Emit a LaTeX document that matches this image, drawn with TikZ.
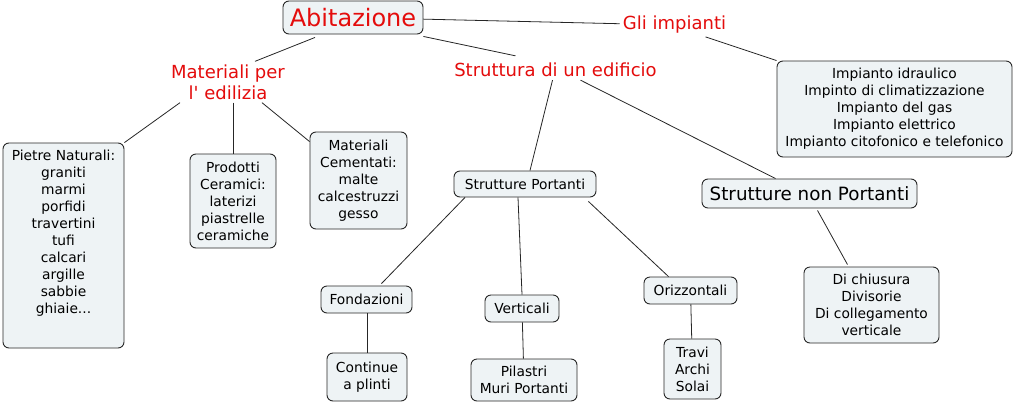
\documentclass[tikz,border=0pt]{standalone}
\usepackage{fontspec}
\setmainfont{DejaVu Sans}
\definecolor{boxfill}{RGB}{238,243,245}
\definecolor{boxdraw}{RGB}{40,40,40}
\definecolor{titlered}{RGB}{228,12,12}
\newcommand{\straightquote}{\XeTeXglyph\XeTeXcharglyph"0027\relax}
\tikzset{
  box/.style={draw=boxdraw, fill=boxfill, rounded corners=6pt, line width=0.9pt,
    align=center, inner sep=0pt, font=\fontsize{13.8}{17}\selectfont},
  bigbox/.style={box, font=\fontsize{18.3}{21}\selectfont},
  redtext/.style={text=titlered, align=center, inner sep=3pt, font=\fontsize{18}{21}\selectfont},
  link/.style={draw=black!85, line width=0.8pt},
}
\begin{document}
\begin{tikzpicture}[x=1pt,y=-1pt]
\useasboundingbox[fill=white] (0,0) rectangle (1015,405);
% top level
\node[box, minimum width=140, minimum height=33, text=titlered, font=\fontsize{24}{26}\selectfont] (abit) at (353,17.5) {Abitazione};
\node[redtext] (gli) at (674.5,25) {Gli impianti};
\node[redtext] (mat) at (228,82) {Materiali per\\l\straightquote{} edilizia};
\node[redtext] (str) at (555.5,70) {Struttura di un edificio};
% impianti
\node[box, minimum width=235, minimum height=96] (impbox) at (894.5,109) {Impianto idraulico\\Impinto di climatizzazione\\Impianto del gas\\Impianto elettrico\\Impianto citofonico e telefonico};
% materials
\node[box, minimum width=121, minimum height=205] (pietre) at (63.5,245.5) {};
\node[align=center, anchor=north, inner sep=0pt, font=\fontsize{13.8}{17}\selectfont] (pietretxt) at (63.5,150) {Pietre Naturali:\\graniti\\marmi\\porfidi\\travertini\\tufi\\calcari\\argille\\sabbie\\ghiaie...};
\node[box, minimum width=86, minimum height=94] (prod) at (233,201) {Prodotti\\Ceramici:\\laterizi\\piastrelle\\ceramiche};
\node[box, minimum width=97, minimum height=97] (cem) at (358.5,180.5) {Materiali\\Cementati:\\malte\\calcestruzzi\\gesso};
% structures
\node[box, minimum width=142, minimum height=26] (sp) at (525,184) {Strutture Portanti};
\node[bigbox, minimum width=215, minimum height=29] (snp) at (809.5,193.5) {Strutture non Portanti};
\node[box, minimum width=135, minimum height=76] (dich) at (871.5,305) {Di chiusura\\Divisorie\\Di collegamento\\verticale};
\node[box, minimum width=91, minimum height=27] (fond) at (366.5,299.5) {Fondazioni};
\node[box, minimum width=74, minimum height=27] (ver) at (522,308.5) {Verticali};
\node[box, minimum width=93, minimum height=27] (oriz) at (690.5,290.5) {Orizzontali};
\node[box, minimum width=80, minimum height=48] (cont) at (367,377) {Continue\\a plinti};
\node[box, minimum width=106, minimum height=42] (pil) at (524,380) {Pilastri\\Muri Portanti};
\node[box, minimum width=57, minimum height=60] (travi) at (692.5,369) {Travi\\Archi\\Solai};
% connectors
\draw[link] (abit) -- (gli);
\draw[link] ([xshift=31pt]gli.south) -- (impbox.north west);
\draw[link] ([xshift=-38pt,yshift=-3pt]abit.south) -- ([xshift=27pt]mat.north);
\draw[link] ([yshift=-2pt]abit.south east) -- ([xshift=-40pt,yshift=4pt]str.north);
\draw[link] ([xshift=-48pt]mat.south) -- (pietre.north east);
\draw[link] (mat.south -| prod.north) -- (prod.north);
\draw[link] ([xshift=34pt]mat.south) -- ([yshift=-10pt]cem.north west);
\draw[link] ([xshift=-3pt]str.south) -- ([xshift=5pt]sp.north);
\draw[link] ([xshift=25pt]str.south) -- ([xshift=-34pt]snp.north);
\draw[link] ([xshift=-60pt]sp.south) -- ([xshift=15pt,yshift=2pt]fond.north);
\draw[link] ([xshift=-7pt]sp.south) -- (ver.north);
\draw[link] ([xshift=-8pt,yshift=-4pt]sp.south east) -- ([xshift=-22pt]oriz.north);
\draw[link] ([xshift=8pt,yshift=-2pt]snp.south) -- ([xshift=-24pt,yshift=2pt]dich.north);
\draw[link] (cont.north |- fond.south) -- (cont.north);
\draw[link] (ver) -- (pil);
\draw[link] (oriz) -- (travi);
\end{tikzpicture}
\end{document}
